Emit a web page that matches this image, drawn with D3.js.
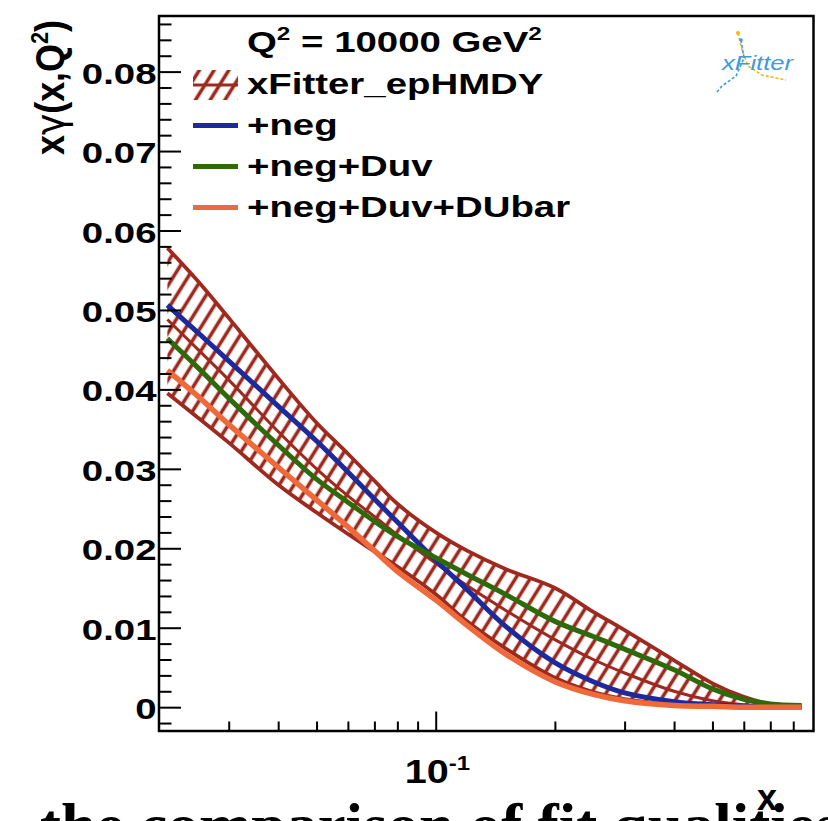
<!DOCTYPE html>
<html>
<head>
<meta charset="utf-8">
<script src="https://cdn.jsdelivr.net/npm/d3@7"></script>
<style>
  html, body { margin: 0; padding: 0; background: #fff; }
  svg { display: block; font-family: 'Liberation Sans', Arial, Helvetica, sans-serif; font-weight: bold; }
</style>
</head>
<body>
<svg id="chart" width="828" height="821"></svg>
<script>
// x grid of the curves (log x)
const xs = [0.021, 0.025, 0.03, 0.04, 0.05, 0.06, 0.07, 0.08, 0.1, 0.12, 0.15, 0.2, 0.25, 0.3, 0.4, 0.5, 0.6, 0.7, 0.84];

// xFitter_epHMDY band: upper edge, lower edge, central line
const bandUp  = [0.0578, 0.0537, 0.0490, 0.0414, 0.0358, 0.0319, 0.0285, 0.0256, 0.0220, 0.0197, 0.0174, 0.0150, 0.0120, 0.0097, 0.0059, 0.0030, 0.0013, 0.0004, 0.0002];
const bandLo  = [0.0395, 0.0365, 0.0333, 0.0280, 0.0245, 0.0218, 0.0196, 0.0177, 0.0142, 0.0108, 0.0074, 0.0037, 0.0019, 0.0010, 0.0003, 0.0001, 0.0000, 0.0000, 0.0000];
const bandMid = [0.0488, 0.0451, 0.0412, 0.0347, 0.0300, 0.0266, 0.0240, 0.0217, 0.0181, 0.0153, 0.0122, 0.0085, 0.0060, 0.0043, 0.0020, 0.0008, 0.0003, 0.0001, 0.0001];

// the three variants
const neg         = [0.0506, 0.0472, 0.0436, 0.0379, 0.0335, 0.0296, 0.0262, 0.0233, 0.0185, 0.0148, 0.0102, 0.0056, 0.0032, 0.0018, 0.0007, 0.0003, 0.0001, 0.0000, 0.0000];
const negDuv      = [0.0464, 0.0428, 0.0389, 0.0330, 0.0287, 0.0258, 0.0234, 0.0215, 0.0188, 0.0167, 0.0142, 0.0108, 0.0089, 0.0073, 0.0047, 0.0023, 0.0010, 0.0004, 0.0002];
const negDuvDUbar = [0.0424, 0.0392, 0.0356, 0.0302, 0.0261, 0.0227, 0.0197, 0.0171, 0.0135, 0.0103, 0.0067, 0.0032, 0.0016, 0.0008, 0.0002, 0.0001, 0.0000, 0.0000, 0.0000];

const legendLabels = ['xFitter_epHMDY', '+neg', '+neg+Duv', '+neg+Duv+DUbar'];

const xDomain = [0.02, 0.9];
const yDomain = [-0.003, 0.087];
const yTicks = [0, 0.01, 0.02, 0.03, 0.04, 0.05, 0.06, 0.07, 0.08];
const yTickLabels = ['0', '0.01', '0.02', '0.03', '0.04', '0.05', '0.06', '0.07', '0.08'];
const yMinorTicks = [-0.002, 0.002, 0.004, 0.006, 0.008, 0.012, 0.014, 0.016, 0.018, 0.022, 0.024, 0.026, 0.028,
  0.032, 0.034, 0.036, 0.038, 0.042, 0.044, 0.046, 0.048, 0.052, 0.054, 0.056, 0.058, 0.062, 0.064, 0.066, 0.068,
  0.072, 0.074, 0.076, 0.078, 0.082, 0.084, 0.086];
const xMajorTicks = [0.1];
const xMinorTicks = [0.03, 0.04, 0.05, 0.06, 0.07, 0.08, 0.09, 0.2, 0.3, 0.4, 0.5, 0.6, 0.7, 0.8];

const red = '#9e2a1f';
const colors = ['#1c2a9c', '#2d6a0c', '#ef6a3a'];

const frame = { left: 159, right: 813.5, top: 16, bottom: 731 };
const stretch = 1.28; // the ROOT text in the picture is wide

const x = d3.scaleLog().domain(xDomain).range([frame.left, frame.right]);
const y = d3.scaleLinear().domain(yDomain).range([frame.bottom, frame.top]);

const svg = d3.select('#chart');
const defs = svg.append('defs');

defs.append('clipPath').attr('id', 'clip')
  .append('rect')
  .attr('x', frame.left).attr('y', frame.top)
  .attr('width', frame.right - frame.left).attr('height', frame.bottom - frame.top);

const hatch = defs.append('pattern')
  .attr('id', 'hatch')
  .attr('patternUnits', 'userSpaceOnUse')
  .attr('width', 12.5).attr('height', 12.5)
  .attr('patternTransform', 'rotate(32)');
hatch.append('line')
  .attr('x1', 6.25).attr('x2', 6.25).attr('y1', -1).attr('y2', 13.5)
  .attr('stroke', red).attr('stroke-width', 3.6);

// band + lines
const curve = d3.curveCatmullRom.alpha(0.5);
const rows = xs.map((v, i) => ({ x: v, lo: bandLo[i], up: bandUp[i], mid: bandMid[i] }));
const area = d3.area()
  .x(d => x(d.x))
  .y0(d => y(d.lo))
  .y1(d => y(d.up))
  .curve(curve);
const edge = key => d3.line().x(d => x(d.x)).y(d => y(d[key])).curve(curve);

const plot = svg.append('g').attr('clip-path', 'url(#clip)');

plot.append('path').datum(rows).attr('d', area).attr('fill', 'url(#hatch)');
['up', 'lo', 'mid'].forEach(k => {
  plot.append('path').datum(rows)
    .attr('d', edge(k))
    .attr('fill', 'none')
    .attr('stroke', red)
    .attr('stroke-width', k === 'mid' ? 3 : 3.8)
    .attr('stroke-linejoin', 'round');
});

const series = [neg, negDuv, negDuvDUbar];
const line = d3.line().x(d => x(d[0])).y(d => y(d[1])).curve(curve);
series.forEach((vals, i) => {
  plot.append('path')
    .datum(xs.map((v, j) => [v, vals[j]]))
    .attr('d', line)
    .attr('fill', 'none')
    .attr('stroke', colors[i])
    .attr('stroke-width', i === 2 ? 5.5 : 5);
});

// frame
svg.append('rect')
  .attr('x', frame.left).attr('y', frame.top)
  .attr('width', frame.right - frame.left).attr('height', frame.bottom - frame.top)
  .attr('fill', 'none').attr('stroke', '#000').attr('stroke-width', 2.5);

// y axis
const yAxisG = svg.append('g')
  .attr('transform', `translate(${frame.left},0)`)
  .call(d3.axisLeft(y).tickValues(yTicks).tickSize(-22).tickFormat((d, i) => yTickLabels[i]));
yAxisG.select('.domain').remove();
yAxisG.selectAll('line').attr('stroke', '#000').attr('stroke-width', 2);
yAxisG.attr('font-size', 30).attr('font-family', null);
yAxisG.selectAll('text')
  .attr('x', null).attr('dy', null)
  .attr('fill', '#000')
  .attr('transform', `translate(-2.5,11.5) scale(${stretch},1)`);

const yMinorG = svg.append('g')
  .attr('transform', `translate(${frame.left},0)`)
  .call(d3.axisLeft(y).tickValues(yMinorTicks).tickSize(-12.5).tickFormat(''));
yMinorG.select('.domain').remove();
yMinorG.selectAll('line').attr('stroke', '#000').attr('stroke-width', 2);

// x axis
const xMajorG = svg.append('g')
  .attr('transform', `translate(0,${frame.bottom})`)
  .call(d3.axisBottom(x).tickValues(xMajorTicks).tickSize(-19.5).tickFormat(''));
const xMinorG = svg.append('g')
  .attr('transform', `translate(0,${frame.bottom})`)
  .call(d3.axisBottom(x).tickValues(xMinorTicks).tickSize(-9.5).tickFormat(''));
[xMajorG, xMinorG].forEach(g => {
  g.select('.domain').remove();
  g.selectAll('line').attr('stroke', '#000').attr('stroke-width', 2);
});

const xLab = svg.append('text')
  .attr('transform', `translate(${x(0.1) - 31},783) scale(1.2,1)`)
  .attr('font-size', 33);
xLab.append('tspan').text('10');
xLab.append('tspan').attr('font-size', 20).attr('dy', -13).text('-1');

// axis titles
svg.append('text')
  .attr('x', 777).attr('y', 810)
  .attr('text-anchor', 'end')
  .attr('font-size', 36)
  .text('x');

const yTitle = svg.append('text')
  .attr('transform', 'translate(64,20) rotate(-90) scale(1,1.22)')
  .attr('text-anchor', 'end')
  .attr('font-size', 33)
  .attr('textLength', 135)
  .attr('lengthAdjust', 'spacingAndGlyphs');
yTitle.append('tspan').text('x');
yTitle.append('tspan').attr('font-family', "'DejaVu Sans', sans-serif").attr('font-weight', 'normal').text('\u03b3');
yTitle.append('tspan').text('(x,Q');
yTitle.append('tspan').attr('font-size', 20).attr('dy', -13).text('2');
yTitle.append('tspan').attr('dy', 13).text(')');

// legend
const legend = svg.append('g');
const title = legend.append('text')
  .attr('transform', `translate(247,52) scale(${stretch},1)`)
  .attr('font-size', 30);
title.append('tspan').text('Q');
title.append('tspan').attr('font-size', 19).attr('dy', -12).text('2');
title.append('tspan').attr('dy', 12).text(' = 10000 GeV');
title.append('tspan').attr('font-size', 19).attr('dy', -12).text('2');

const rowY = [94, 135, 176, 217];
legendLabels.forEach((lab, i) => {
  legend.append('text')
    .attr('transform', `translate(247,${rowY[i]}) scale(${stretch},1)`)
    .attr('font-size', 30)
    .text(lab);
  if (i === 0) {
    legend.append('rect')
      .attr('x', 193).attr('y', rowY[i] - 24)
      .attr('width', 45).attr('height', 30)
      .attr('fill', 'url(#hatch)');
    legend.append('line')
      .attr('x1', 193).attr('x2', 238)
      .attr('y1', rowY[i] - 9).attr('y2', rowY[i] - 9)
      .attr('stroke', red).attr('stroke-width', 3);
  } else {
    legend.append('line')
      .attr('x1', 193).attr('x2', 238)
      .attr('y1', rowY[i] - 9.5).attr('y2', rowY[i] - 9.5)
      .attr('stroke', colors[i - 1]).attr('stroke-width', 5);
  }
});

// xFitter logo
const logo = svg.append('g');
logo.append('path')
  .attr('d', 'M738,33 L742,50 L748,66 L762,75 L786,80')
  .attr('fill', 'none').attr('stroke', '#f2b417').attr('stroke-width', 1.6).attr('stroke-dasharray', '3,2');
logo.append('path')
  .attr('d', 'M741,40 L744,58 L736,76 L722,86 L717,92')
  .attr('fill', 'none').attr('stroke', '#3d9be0').attr('stroke-width', 1.6).attr('stroke-dasharray', '3,2');
logo.append('circle').attr('cx', 738).attr('cy', 33).attr('r', 2).attr('fill', '#f2b417');
logo.append('circle').attr('cx', 741).attr('cy', 40).attr('r', 1.8).attr('fill', '#3d9be0');
logo.append('text')
  .attr('transform', `translate(722,70) scale(${stretch},1)`)
  .attr('font-size', 20)
  .attr('font-weight', 'normal')
  .attr('font-style', 'italic')
  .attr('fill', '#3d9be0')
  .text('xFitter');

// cut-off line of the slide text below the plot
svg.append('text')
  .attr('x', 40).attr('y', 846)
  .attr('font-family', "'Liberation Serif', 'Times New Roman', serif")
  .attr('font-size', 62)
  .attr('textLength', 800)
  .attr('lengthAdjust', 'spacingAndGlyphs')
  .text('the comparison of fit qualities');
</script>
</body>
</html>
